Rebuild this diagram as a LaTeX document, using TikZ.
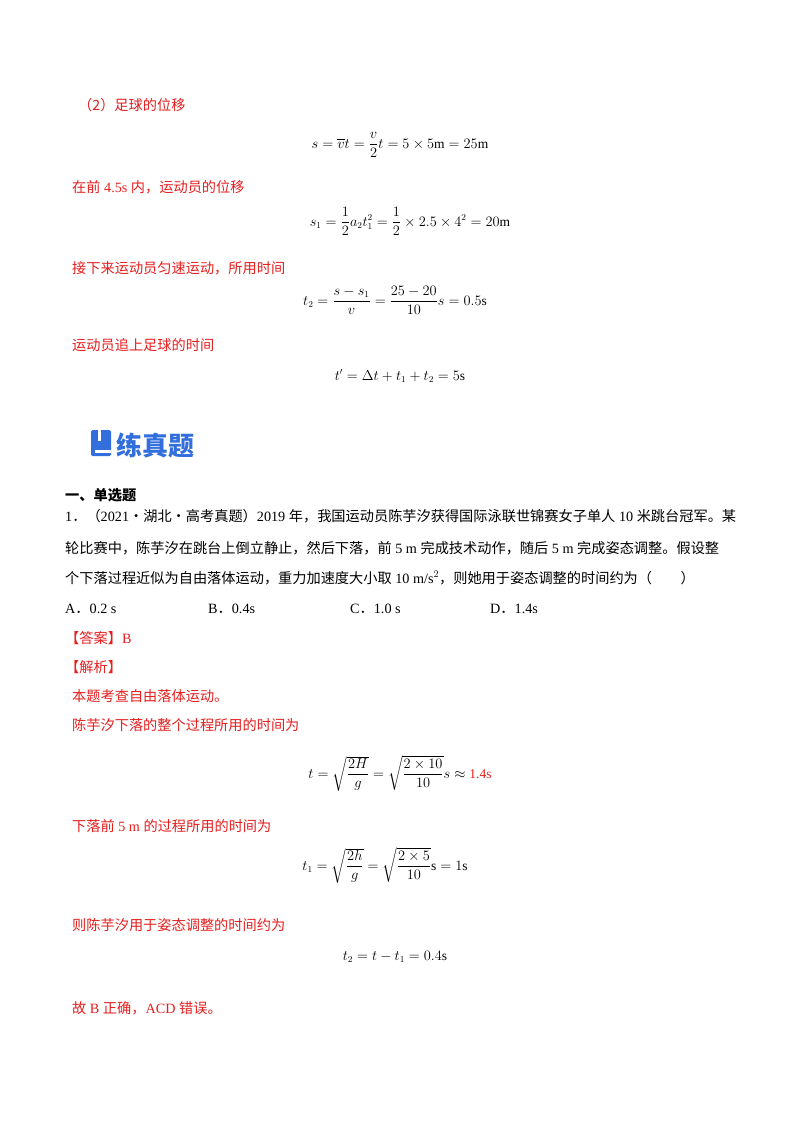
\documentclass[tikz,border=0pt]{standalone}
\usepackage{amsmath}
\usepackage{fontspec}
\setmainfont{Liberation Serif}
\newfontfamily\cjk{Noto Sans CJK SC}
\newcommand\zh[1]{{\cjk #1}}
\definecolor{ansred}{RGB}{230,30,30}
\definecolor{headblue}{RGB}{50,110,220}
\begin{document}
\begin{tikzpicture}[x=1pt,y=-1pt,
  txt/.style={anchor=base west,inner sep=0pt,font=\fontsize{14.2}{17}\selectfont},
  red/.style={txt,text=ansred},
  eq/.style={anchor=base,inner sep=0pt,font=\fontsize{13.5}{16}\selectfont}]
\useasboundingbox (0,0) rectangle (800,1132);
\fill[white] (0,0) rectangle (800,1132);
\node[red] (l1) at (78,110) {\zh{（2）足球的位移}};
\node[eq] (e1) at (400,148) {$s=\overline{v}t=\dfrac{v}{2}t=5\times5\mathrm{m}=25\mathrm{m}$};
\node[red] (l2) at (72,192) {\zh{在前} 4.5s \zh{内，运动员的位移}};
\node[eq] (e2) at (410,226) {$s_1=\dfrac12a_2t_1^2=\dfrac12\times2.5\times4^2=20\mathrm{m}$};
\node[red] (l3) at (72,273) {\zh{接下来运动员匀速运动，所用时间}};
\node[eq] (e3) at (395,305) {$t_2=\dfrac{s-s_1}{v}=\dfrac{25-20}{10}s=0.5\mathrm{s}$};
\node[red] (l4) at (72,350) {\zh{运动员追上足球的时间}};
\node[eq] (e4) at (400,380) {$t'=\Delta t+t_1+t_2=5\mathrm{s}$};
% heading
\fill[headblue,rounded corners=1.5pt] (91,430) rectangle (111,456);
\fill[white] (95,450) rectangle (111,453);
\fill[white] (98,430) rectangle (100.5,441);
\node[anchor=base west,inner sep=0pt,text=headblue,font=\cjk\bfseries\fontsize{26}{30}\selectfont] (h) at (116,455) {练真题};
\node[txt] (s1) at (65,500) {\zh{\bfseries 一、单选题}};
\node[txt] (q1) at (65,521) {1\zh{．（}2021\zh{·湖北·高考真题）}2019 \zh{年，我国运动员陈芋汐获得国际泳联世锦赛女子单人} 10 \zh{米跳台冠军。某}};
\node[txt] (q2) at (65,553) {\zh{轮比赛中，陈芋汐在跳台上倒立静止，然后下落，前} 5 m \zh{完成技术动作，随后} 5 m \zh{完成姿态调整。假设整}};
\node[txt] (q3) at (65,583) {\zh{个下落过程近似为自由落体运动，重力加速度大小取} 10 m/s$^2$\zh{，则她用于姿态调整的时间约为（\quad\quad ）}};
\node[txt] (oa) at (65,613) {A\zh{．}0.2 s};
\node[txt] (ob) at (208,613) {B\zh{．}0.4s};
\node[txt] (oc) at (350,613) {C\zh{．}1.0 s};
\node[txt] (od) at (490,613) {D\zh{．}1.4s};
\node[red] (ans) at (65,643) {\zh{【答案】}B};
\node[red] (jx) at (65,672) {\zh{【解析】}};
\node[red] (r1) at (72,701) {\zh{本题考查自由落体运动。}};
\node[red] (r2) at (72,730) {\zh{陈芋汐下落的整个过程所用的时间为}};
\node[eq] (e5) at (400,778) {$t=\sqrt{\dfrac{2H}{g}}=\sqrt{\dfrac{2\times10}{10}}s\approx\textcolor{ansred}{\text{1.4s}}$};
\node[red] (r3) at (72,831) {\zh{下落前} 5 m \zh{的过程所用的时间为}};
\node[eq] (e6) at (385,870) {$t_1=\sqrt{\dfrac{2h}{g}}=\sqrt{\dfrac{2\times5}{10}}\mathrm{s}=1\mathrm{s}$};
\node[red] (r4) at (72,930) {\zh{则陈芋汐用于姿态调整的时间约为}};
\node[eq] (e7) at (395,960) {$t_2=t-t_1=0.4\mathrm{s}$};
\node[red] (r5) at (72,1013) {\zh{故} B \zh{正确，}ACD \zh{错误。}};
\end{tikzpicture}
\end{document}
